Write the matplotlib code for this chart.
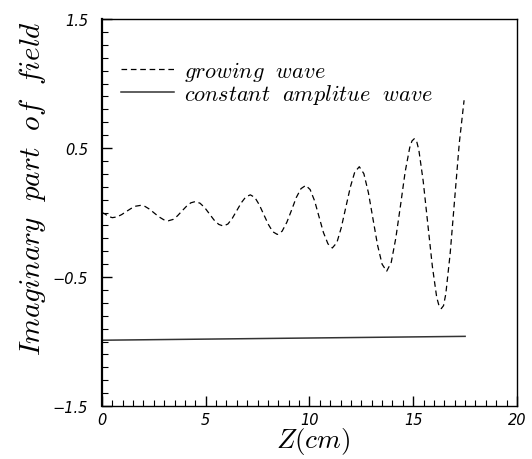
import matplotlib
matplotlib.use("Agg")
import matplotlib.pyplot as plt
from matplotlib.ticker import MultipleLocator, FixedLocator

plt.rcParams['mathtext.fontset'] = 'cm'

# growing wave (z in cm, imaginary part)
z_growing = [0.0, 0.15, 0.3, 0.5,
             0.725, 0.95, 1.175, 1.4, 1.625, 1.85,
             2.075, 2.3, 2.525, 2.75, 2.975, 3.2,
             3.42, 3.63, 3.85, 4.07, 4.28, 4.5,
             4.725, 4.95, 5.175, 5.4, 5.625, 5.85,
             6.07, 6.28, 6.5, 6.72, 6.93, 7.15,
             7.37, 7.58, 7.8, 8.02, 8.23, 8.45,
             8.68, 8.91, 9.14, 9.36, 9.59, 9.82,
             10.03, 10.25, 10.46, 10.67, 10.89, 11.1,
             11.32, 11.53, 11.75, 11.97, 12.18, 12.4,
             12.62, 12.84, 13.06, 13.28, 13.5, 13.72,
             13.94, 14.16, 14.39, 14.61, 14.83, 14.94, 15.05,
             15.16, 15.27, 15.48, 15.7, 15.92, 16.13, 16.24, 16.35,
             16.46, 16.57, 16.78, 17.0, 17.22, 17.45]
im_growing = [0.0, -0.012, -0.03, -0.04,
              -0.034, -0.016, 0.008, 0.031, 0.049, 0.055,
              0.047, 0.025, -0.005, -0.034, -0.056, -0.064,
              -0.054, -0.027, 0.011, 0.048, 0.075, 0.085,
              0.072, 0.038, -0.010, -0.058, -0.092, -0.105,
              -0.089, -0.045, 0.016, 0.077, 0.121, 0.137,
              0.116, 0.060, -0.017, -0.093, -0.149, -0.170,
              -0.145, -0.075, 0.020, 0.115, 0.185, 0.210,
              0.178, 0.089, -0.033, -0.154, -0.243, -0.275,
              -0.233, -0.118, 0.040, 0.198, 0.313, 0.355,
              0.301, 0.153, -0.050, -0.253, -0.401, -0.455,
              -0.386, -0.198, 0.059, 0.315, 0.503, 0.555, 0.572,
              0.555, 0.484, 0.243, -0.087, -0.416, -0.657, -0.722, -0.745,
              -0.722, -0.630, -0.317, 0.112, 0.540, 0.870]

# constant amplitude wave
z_const = [0.0, 17.5]
im_const = [-0.99, -0.96]

y_ticks = [-1.5, -0.5, 0.5, 1.5]

fig = plt.figure(figsize=(5.32, 4.60), dpi=100)
ax = fig.add_axes([0.1917, 0.1152, 0.7801, 0.8413])

ax.plot(z_growing, im_growing, color="black", lw=0.9, linestyle=(0, (4.5, 3)),
        label=r"$growing\ \ wave$")
ax.plot(z_const, im_const, color="#333333", lw=1.1,
        label=r"$constant\ \ amplitue\ \ wave$")

ax.set_xlim(0, 20)
ax.set_ylim(-1.5, 1.5)

ax.xaxis.set_major_locator(MultipleLocator(5))
ax.xaxis.set_minor_locator(MultipleLocator(0.5))
ax.yaxis.set_major_locator(FixedLocator(y_ticks))
ax.yaxis.set_minor_locator(MultipleLocator(0.1))
ax.tick_params(which="both", direction="in", top=False, right=False)
ax.tick_params(which="major", length=7, width=1)
ax.tick_params(which="minor", length=4, width=0.8)
ax.tick_params(axis="y", pad=10)
ax.tick_params(axis="x", pad=4)

for lab in ax.get_xticklabels() + ax.get_yticklabels():
    lab.set_fontstyle("italic")
    lab.set_fontsize(10.5)

for sp in ax.spines.values():
    sp.set_linewidth(1.0)
ax.spines["left"].set_linewidth(1.6)

ax.set_xlabel(r"$Z(cm)$", fontsize=19.5)
ax.xaxis.set_label_coords(0.51, -0.05)
ax.set_ylabel(r"$Imaginary\ \ part\ \ of\ \ field$", fontsize=21)
ax.yaxis.set_label_coords(-0.13, 0.565)

ax.legend(loc="upper left", bbox_to_anchor=(0.045, 0.897), frameon=False,
          fontsize=16, handlelength=2.4, handletextpad=0.45, labelspacing=-0.05,
          borderpad=0, borderaxespad=0)

fig.savefig("out.png", dpi=100)
